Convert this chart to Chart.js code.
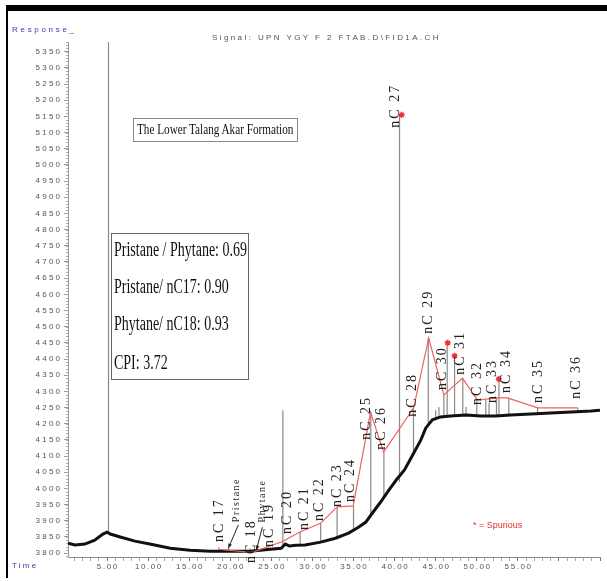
<!DOCTYPE html>
<html>
<head>
<meta charset="utf-8">
<script src="https://cdn.jsdelivr.net/npm/chart.js@4.4.0/dist/chart.umd.min.js"></script>
<style>
body{margin:0;background:#fff;}
#wrap{position:relative;width:607px;height:581px;overflow:hidden;background:#fff;}
#chartCanvas{position:absolute;left:0;top:0;}
#frameTop{position:absolute;left:6px;top:5px;width:601px;height:6px;background:#000;}
#frameLeft{position:absolute;left:6px;top:5px;width:2px;height:573px;background:#000;}
.sans{position:absolute;font-family:'Liberation Sans',Arial,sans-serif;font-size:8px;white-space:nowrap;}
.serif{position:absolute;font-family:'Liberation Serif','Times New Roman',serif;white-space:nowrap;color:#111;transform-origin:0 50%;}
#titleBox{position:absolute;left:133px;top:118px;width:163px;height:22px;border:1px solid #888;}
#statsBox{position:absolute;left:111px;top:233px;width:136px;height:145px;border:1.5px solid #666;}
</style>
</head>
<body>
<div id="wrap">
  <canvas id="chartCanvas" width="607" height="581"></canvas>
  <div id="frameTop"></div>
  <div id="frameLeft"></div>
  <div class="sans" style="left:12px;top:25px;color:#3a3ab0;letter-spacing:2.7px;">Response_</div>
  <div class="sans" style="left:212px;top:33px;color:#555;letter-spacing:2.4px;">Signal: UPN YGY F 2 FTAB.D\FID1A.CH</div>
  <div class="sans" style="left:12px;top:561px;color:#3a3ab0;letter-spacing:2.2px;">Time</div>
  <div id="titleBox">
    <div class="serif" style="left:3px;top:3px;font-size:14px;transform:scaleX(0.8);">The Lower Talang Akar Formation</div>
  </div>
  <div id="statsBox">
    <div class="serif" style="left:2px;top:4px;font-size:20px;transform:scaleX(0.7);">Pristane / Phytane: 0.69</div>
    <div class="serif" style="left:2px;top:41px;font-size:20px;transform:scaleX(0.7);">Pristane/ nC17: 0.90</div>
    <div class="serif" style="left:2px;top:78px;font-size:20px;transform:scaleX(0.7);">Phytane/ nC18: 0.93</div>
    <div class="serif" style="left:2px;top:117px;font-size:20px;transform:scaleX(0.7);">CPI: 3.72</div>
  </div>
  <div class="sans" style="left:473px;top:520px;color:#e03030;font-size:9px;">* = Spurious</div>
</div>
<script>
// 基线 (保留时间 min, 响应值)
var baseTime = [0.25, 1.1, 2.3, 3.5, 4.5, 5.0, 5.4, 6.6, 8.4, 10.2, 12.7, 15.1, 17.6, 20.0, 22.4, 24.9, 26.2, 26.7, 27.2, 28.0, 29.1, 31.0, 32.8, 34.4, 35.6, 36.5, 37.3, 38.3, 39.3, 40.2, 41.2, 42.2, 43.2, 43.8, 44.6, 45.6, 46.8, 48.7, 50.5, 52.3, 54.1, 56.6, 59.0, 61.5, 63.9, 65.0];
var baseResp = [3831, 3825, 3828, 3840, 3859, 3865, 3859, 3850, 3837, 3828, 3815, 3809, 3806, 3806, 3806, 3812, 3815, 3828, 3822, 3824, 3825, 3834, 3846, 3862, 3880, 3896, 3924, 3958, 3995, 4026, 4057, 4103, 4150, 4187, 4212, 4221, 4224, 4227, 4224, 4224, 4227, 4230, 4233, 4236, 4239, 4242];

// 峰 (时间, 峰顶, 峰底)
var peakTime = [5.18, 18.6, 19.8, 22.4, 23.2, 24.6, 26.4, 28.5, 31.0, 33.0, 35.0, 37.1, 38.7, 40.6, 42.3, 44.1, 45.0, 45.4, 46.0, 46.4, 47.3, 48.3, 48.7, 50.0, 51.1, 51.5, 52.4, 52.7, 53.9, 57.4, 62.3];
var peakTop  = [5400, 3818, 3816, 3814, 3814, 3818, 4242, 3866, 3892, 3943, 3946, 4236, 4112, 5155, 4249, 4465, 4242, 4252, 4289, 4450, 4405, 4341, 4252, 4273, 4273, 4264, 4280, 4335, 4280, 4249, 4249];
var peakBase = [3864, 3806, 3806, 3806, 3806, 3811, 3815, 3824, 3834, 3846, 3870, 3920, 3975, 4020, 4100, 4200, 4215, 4218, 4222, 4222, 4224, 4226, 4226, 4224, 4224, 4224, 4224, 4224, 4226, 4230, 4236];

// 正构烷烃包络线 (红线)
var alkTime = [18.54, 22.44, 23.17, 26.3, 28.54, 30.98, 33.01, 34.96, 37.07, 38.66, 42.32, 44.15, 46.0, 48.26, 50.09, 52.52, 53.74, 57.4, 62.28];
var alkResp = [3812, 3802, 3807, 3835, 3866, 3892, 3943, 3946, 4236, 4112, 4249, 4465, 4289, 4341, 4273, 4280, 4280, 4249, 4249];

// 假峰标记
var spurTime = [40.85, 46.46, 47.3, 52.68];
var spurResp = [5155, 4450, 4410, 4338];

// 峰标签
var labelText = ['nC 17','nC 18','nC 19','nC 20','nC 21','nC 22','nC 23','nC 24','nC 25','nC 26','nC 27','nC 28','nC 29','nC 30','nC 31','nC 32','nC 33','nC 34','nC 35','nC 36'];
var labelTime = [18.66, 22.56, 24.76, 26.95, 29.02, 30.85, 33.05, 34.63, 36.59, 38.41, 40.12, 42.2, 44.15, 45.85, 48.05, 50.12, 51.95, 53.66, 57.44, 62.07];
var labelResp = [3902, 3837, 3887, 3927, 3939, 3967, 4010, 4026, 4218, 4187, 5183, 4289, 4546, 4372, 4419, 4326, 4332, 4363, 4332, 4345];

// 类异戊二烯标签和箭头
var isoText = ['Pristane', 'Phytane'];
var isoLabelTime = [20.73, 23.9];
var isoLabelResp = [3964, 3961];
var arrowFromTime = [20.98, 23.9];
var arrowFromResp = [3887, 3880];
var arrowToTime = [19.76, 23.17];
var arrowToResp = [3815, 3809];

var yTicks = [];
for (var v = 3800; v <= 5350; v += 50) yTicks.push(v);
var xTicks = [];
for (var t = 1; t <= 65; t++) xTicks.push(t);

var baseData = baseTime.map(function (t, i) { return { x: t, y: baseResp[i] }; });
var peakData = [];
for (var i = 0; i < peakTime.length; i++) {
    peakData.push({ x: peakTime[i], y: peakBase[i] });
    peakData.push({ x: peakTime[i], y: peakTop[i] });
    peakData.push({ x: peakTime[i], y: null });
}
var alkData = alkTime.map(function (t, i) { return { x: t, y: alkResp[i] }; });
var spurData = spurTime.map(function (t, i) { return { x: t, y: spurResp[i] }; });

function spaced(s, sep) { return String(s).split('').join(sep); }

var annotPlugin = {
    id: 'annot',
    afterDatasetsDraw: function (chart) {
        var ctx = chart.ctx;
        var xs = chart.scales.x, ys = chart.scales.y;
        ctx.save();
        // y 轴次刻度
        ctx.strokeStyle = '#aaa';
        ctx.lineWidth = 1;
        for (var v = 3790; v <= 5380; v += 10) {
            var py = Math.round(ys.getPixelForValue(v)) + 0.5;
            ctx.beginPath();
            ctx.moveTo(xs.left - 2, py);
            ctx.lineTo(xs.left, py);
            ctx.stroke();
        }
        // 峰标签
        ctx.fillStyle = '#222';
        ctx.font = '14px "Liberation Serif", "Times New Roman", serif';
        ctx.letterSpacing = '2px';
        ctx.textAlign = 'center';
        ctx.textBaseline = 'middle';
        for (var i = 0; i < labelText.length; i++) {
            ctx.save();
            ctx.translate(xs.getPixelForValue(labelTime[i]), ys.getPixelForValue(labelResp[i]));
            ctx.rotate(-Math.PI / 2);
            ctx.fillText(labelText[i], 0, 0);
            ctx.restore();
        }
        ctx.font = '10px "Liberation Serif", "Times New Roman", serif';
        ctx.letterSpacing = '1.5px';
        for (var j = 0; j < isoText.length; j++) {
            ctx.save();
            ctx.translate(xs.getPixelForValue(isoLabelTime[j]), ys.getPixelForValue(isoLabelResp[j]));
            ctx.rotate(-Math.PI / 2);
            ctx.fillText(isoText[j], 0, 0);
            ctx.restore();
            // 箭头
            var x1 = xs.getPixelForValue(arrowFromTime[j]), y1 = ys.getPixelForValue(arrowFromResp[j]);
            var x2 = xs.getPixelForValue(arrowToTime[j]), y2 = ys.getPixelForValue(arrowToResp[j]);
            ctx.strokeStyle = '#222';
            ctx.lineWidth = 1;
            ctx.beginPath();
            ctx.moveTo(x1, y1);
            ctx.lineTo(x2, y2);
            ctx.stroke();
            var ang = Math.atan2(y2 - y1, x2 - x1);
            ctx.beginPath();
            ctx.moveTo(x2, y2);
            ctx.lineTo(x2 - 5 * Math.cos(ang - 0.4), y2 - 5 * Math.sin(ang - 0.4));
            ctx.lineTo(x2 - 5 * Math.cos(ang + 0.4), y2 - 5 * Math.sin(ang + 0.4));
            ctx.closePath();
            ctx.fill();
        }
        ctx.restore();
    }
};

new Chart(document.getElementById('chartCanvas'), {
    type: 'line',
    data: {
        datasets: [
            { label: 'peaks', data: peakData, borderColor: '#8a8a8a', borderWidth: 1.2, pointRadius: 0, spanGaps: false, order: 3 },
            { label: 'baseline', data: baseData, borderColor: '#111', borderWidth: 3, pointRadius: 0, tension: 0, order: 2 },
            { label: 'n-alkanes', data: alkData, borderColor: '#f06060', borderWidth: 1.2, pointRadius: 0, tension: 0, order: 1 },
            { label: 'spurious', data: spurData, showLine: false, pointStyle: 'star', pointRadius: 3, borderColor: '#f03030', backgroundColor: '#f03030', borderWidth: 1.5, order: 0 }
        ]
    },
    options: {
        responsive: false,
        animation: false,
        layout: { padding: { left: 0, top: 42, right: 7, bottom: 0 } },
        plugins: { legend: { display: false }, tooltip: { enabled: false } },
        scales: {
            x: {
                type: 'linear',
                min: 0.25,
                max: 65,
                afterFit: function (s) { s.height = 24; },
                afterBuildTicks: function (s) { s.ticks = xTicks.map(function (t) { return { value: t }; }); },
                border: { color: '#888' },
                grid: {
                    drawOnChartArea: false,
                    tickLength: 4,
                    color: function (c) { return c.tick && c.tick.value % 5 === 0 ? '#777' : '#aaa'; }
                },
                ticks: {
                    autoSkip: false,
                    maxRotation: 0,
                    padding: 1,
                    color: '#555',
                    font: { family: 'Liberation Sans', size: 8 },
                    callback: function (val) {
                        if (val % 5 !== 0 || val > 55) return '';
                        return spaced(val.toFixed(2), '\u2009');
                    }
                }
            },
            y: {
                type: 'linear',
                min: 3788,
                max: 5380,
                afterFit: function (s) { s.width = 68; },
                afterBuildTicks: function (s) { s.ticks = yTicks.map(function (t) { return { value: t }; }); },
                border: { color: '#999' },
                grid: { drawOnChartArea: false, tickLength: 4, color: '#999' },
                ticks: {
                    padding: 4,
                    color: '#555',
                    font: { family: 'Liberation Sans', size: 8 },
                    callback: function (val) { return spaced(val, ' '); }
                }
            }
        }
    },
    plugins: [annotPlugin]
});
</script>
</body>
</html>
